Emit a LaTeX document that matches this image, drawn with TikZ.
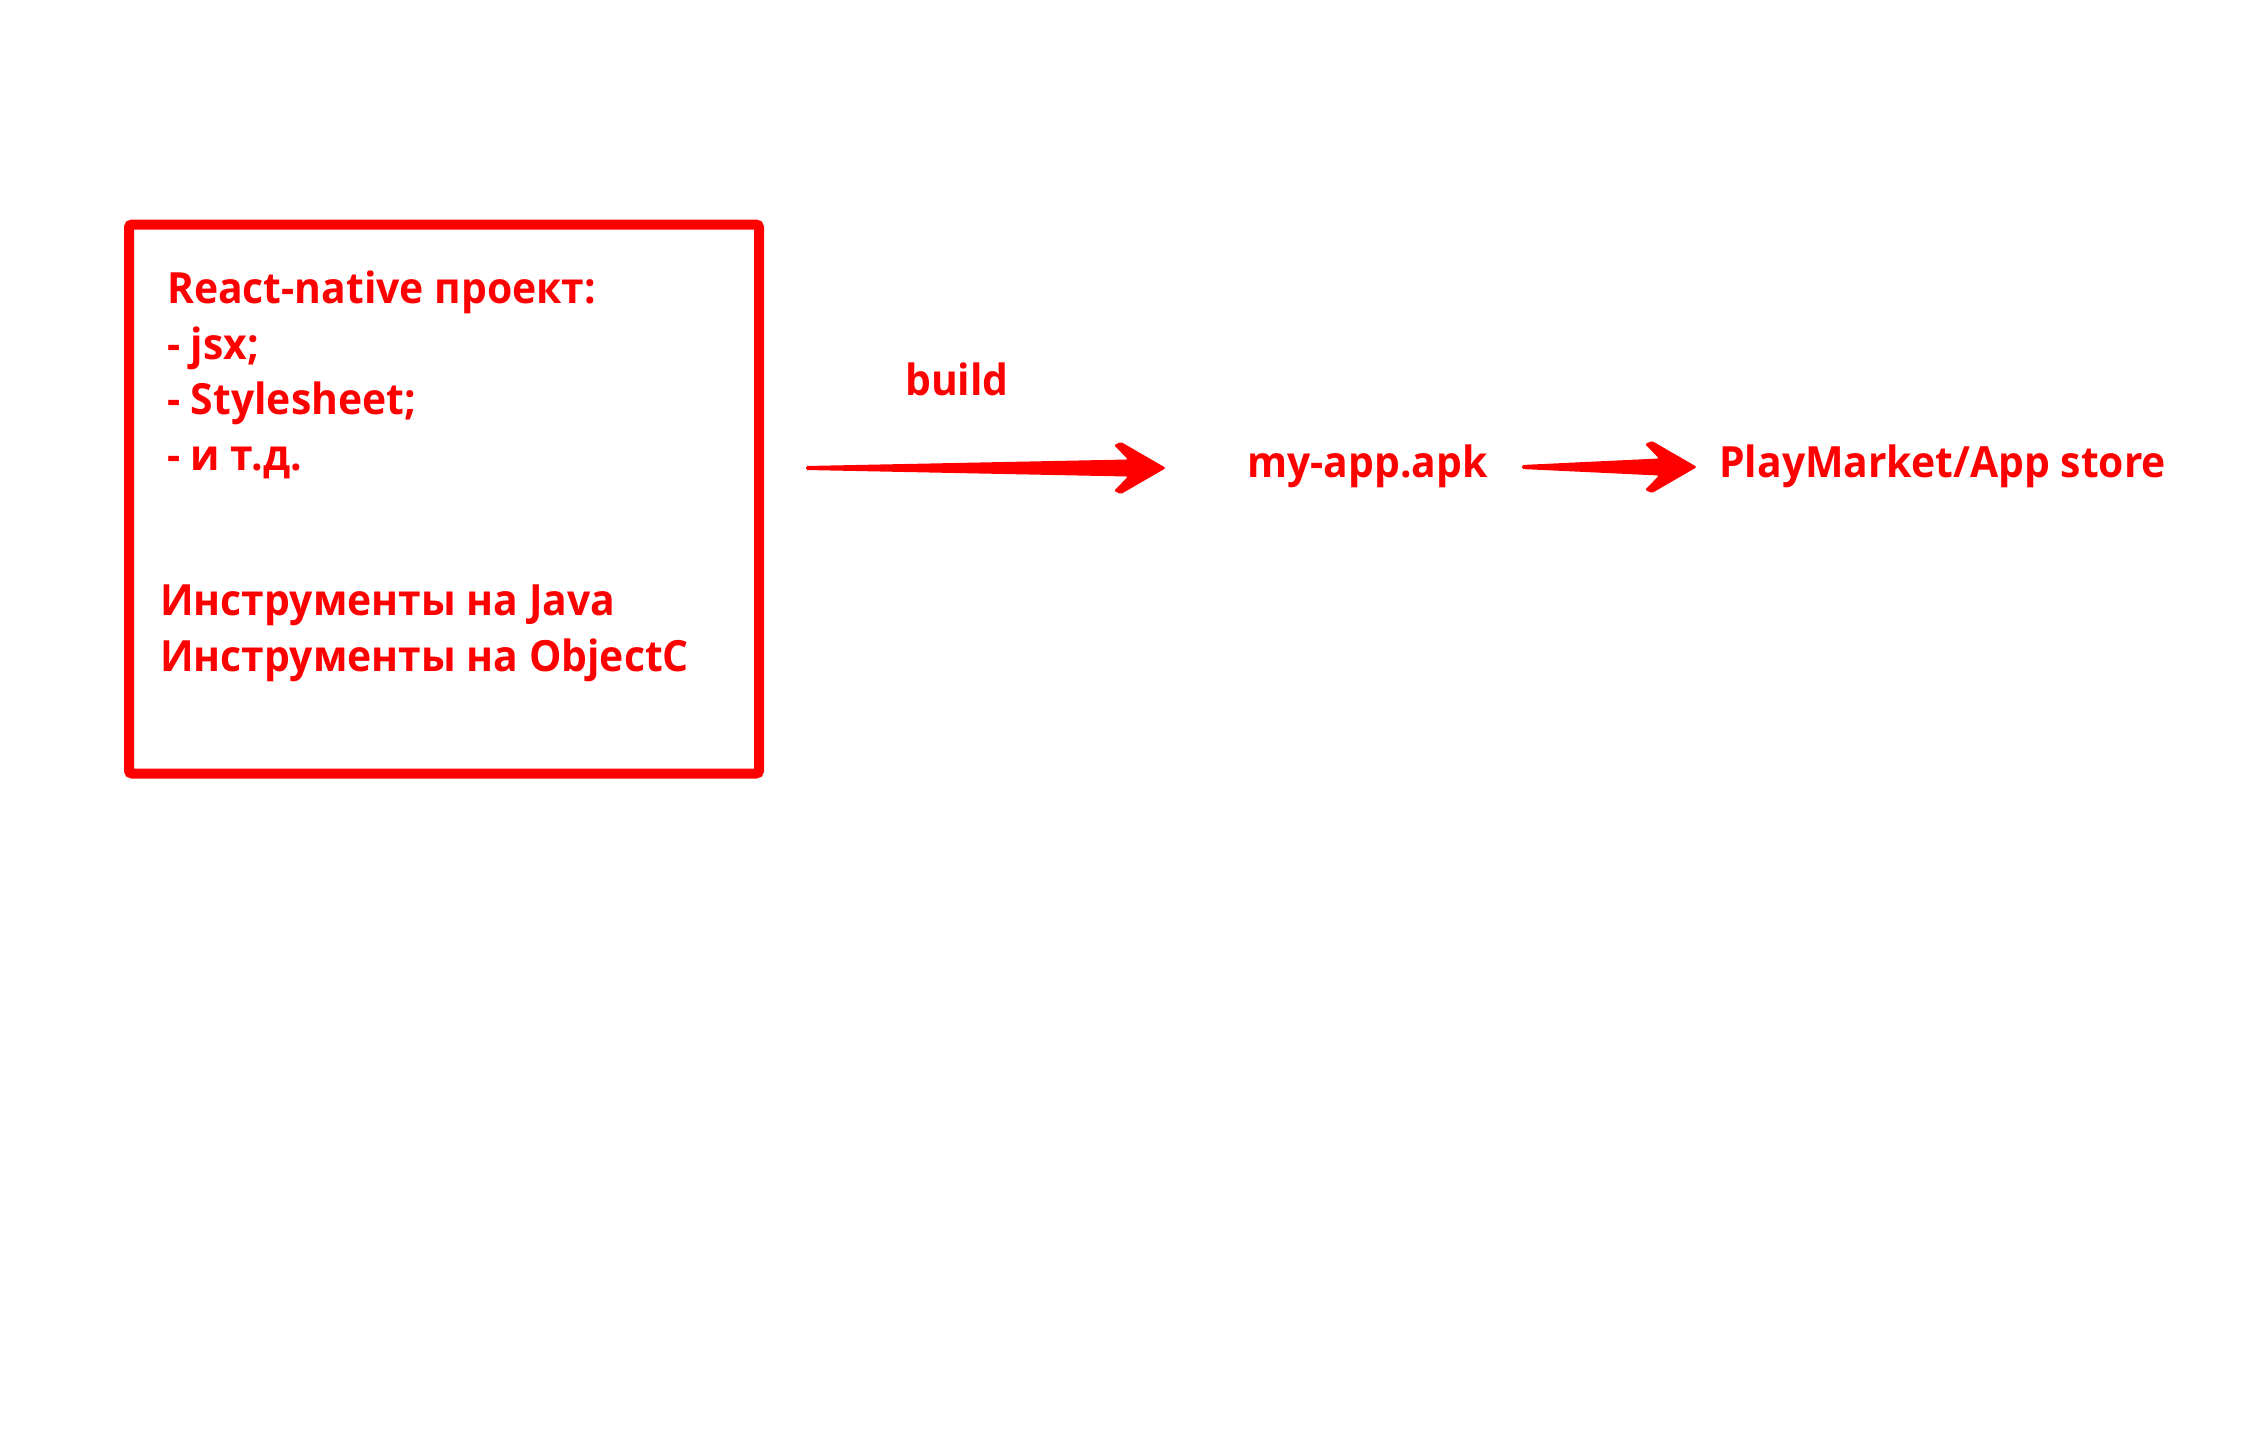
\documentclass[tikz,border=0pt]{standalone}
\usepackage{fontspec}
\setmainfont{Open Sans}[FakeStretch=0.95]
\usetikzlibrary{calc}
\definecolor{signred}{RGB}{255,0,0}
\tikzset{
  redtext/.style={text=signred, inner sep=0pt, anchor=base west, align=left,
    font=\bfseries\fontsize{43}{55.5}\selectfont},
  redbox/.style={draw=signred, line width=10pt, rounded corners=3pt,
    minimum width=630pt, minimum height=549pt},
}
% tapered red arrow: #1 tail, #2 tip
\newcommand{\redarrow}[2]{
  \fill[signred, rounded corners=1.5pt]
    ($(#1)+(0,-2)$) -- ($(#2)+(-38,-8.5)$) -- ($(#2)+(-52,-23)$) -- ($(#2)+(-45,-26)$)
    -- (#2) -- ($(#2)+(-45,26)$) -- ($(#2)+(-52,23)$) -- ($(#2)+(-38,8.5)$)
    -- ($(#1)+(0,2)$) -- cycle;
}
\begin{document}
\begin{tikzpicture}[x=1pt, y=-1pt]
    \fill[white] (0,0) rectangle (2251,1430);
    \useasboundingbox (0,0) rectangle (2251,1430);
    \node[redbox] (proj) at (444,499) {};
    % base anchor sits on the last line
    \node[redtext] (items) at (167,470) {React-native проект:\\- jsx;\\- Stylesheet;\\- и т.д.};
    \node[redtext] (tools) at (160,671) {Инструменты на Java\\Инструменты на ObjectC};
    \node[redtext] (build) at (905,395) {build};
    \node[redtext] (apk) at (1247,477) {my-app.apk};
    \node[redtext] (store) at (1719,477) {PlayMarket/App store};
    \coordinate (t1) at (806,468);
    \coordinate (h1) at (1166,468);
    \coordinate (t2) at (1522,467);
    \coordinate (h2) at (1697,467);
    \redarrow{t1}{h1}
    \redarrow{t2}{h2}
\end{tikzpicture}
\end{document}
